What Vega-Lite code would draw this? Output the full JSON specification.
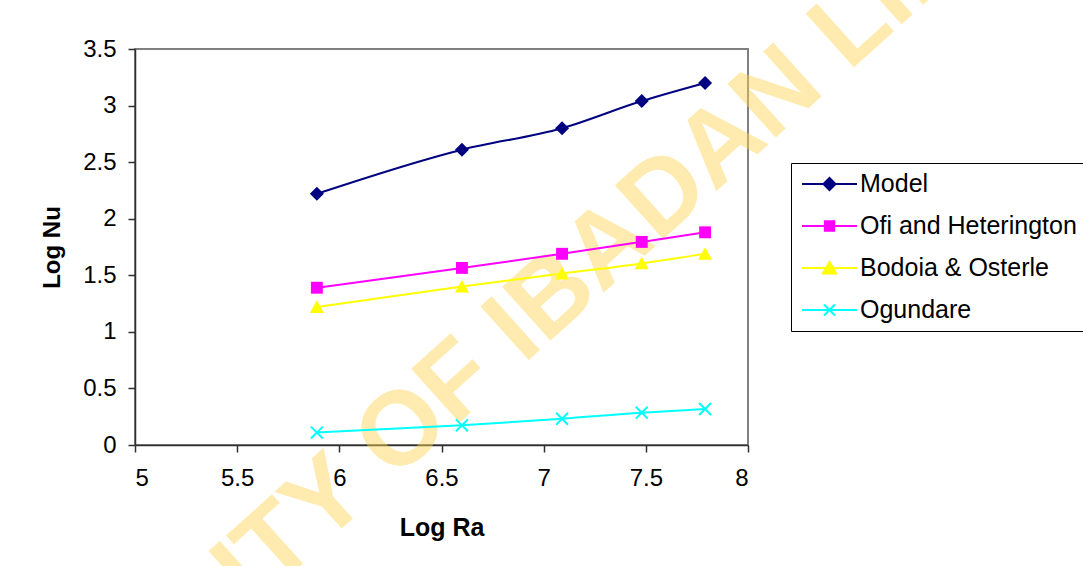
{
  "$schema": "https://vega.github.io/schema/vega-lite/v6.json",
  "width": 613,
  "height": 396,
  "autosize": "none",
  "padding": {"left": 135, "top": 49, "right": 335, "bottom": 121},
  "background": "white",
  "config": {
    "font": "Liberation Sans",
    "view": {"stroke": "#808080", "strokeWidth": 2},
    "axis": {
      "grid": false,
      "domainColor": "#303030",
      "domainWidth": 1.5,
      "tickColor": "#303030",
      "tickWidth": 1.5,
      "tickSize": 7,
      "labelFont": "Liberation Sans",
      "labelFontSize": 24,
      "labelColor": "black",
      "titleFont": "Liberation Sans",
      "titleFontSize": 24,
      "titleFontWeight": "bold",
      "titleColor": "black"
    }
  },
  "data": {
    "values": [
      {"series": "Model", "LogRa": 5.89, "LogNu": 2.22},
      {"series": "Model", "LogRa": 6.6, "LogNu": 2.61},
      {"series": "Model", "LogRa": 7.09, "LogNu": 2.8},
      {"series": "Model", "LogRa": 7.48, "LogNu": 3.04},
      {"series": "Model", "LogRa": 7.79, "LogNu": 3.2},
      {"series": "Ofi and Heterington", "LogRa": 5.89, "LogNu": 1.39},
      {"series": "Ofi and Heterington", "LogRa": 6.6, "LogNu": 1.565},
      {"series": "Ofi and Heterington", "LogRa": 7.09, "LogNu": 1.69},
      {"series": "Ofi and Heterington", "LogRa": 7.48, "LogNu": 1.795},
      {"series": "Ofi and Heterington", "LogRa": 7.79, "LogNu": 1.88},
      {"series": "Bodoia & Osterle", "LogRa": 5.89, "LogNu": 1.22},
      {"series": "Bodoia & Osterle", "LogRa": 6.6, "LogNu": 1.4},
      {"series": "Bodoia & Osterle", "LogRa": 7.09, "LogNu": 1.515},
      {"series": "Bodoia & Osterle", "LogRa": 7.48, "LogNu": 1.605},
      {"series": "Bodoia & Osterle", "LogRa": 7.79, "LogNu": 1.69},
      {"series": "Ogundare", "LogRa": 5.89, "LogNu": 0.11},
      {"series": "Ogundare", "LogRa": 6.6, "LogNu": 0.174},
      {"series": "Ogundare", "LogRa": 7.09, "LogNu": 0.232},
      {"series": "Ogundare", "LogRa": 7.48, "LogNu": 0.286},
      {"series": "Ogundare", "LogRa": 7.79, "LogNu": 0.318}
    ]
  },
  "layer": [
    {
      "data": {"values": [{"label": "UNIVERSITY OF IBADAN LIBRARY"}]},
      "mark": {
        "type": "text",
        "angle": 318,
        "fontSize": 105,
        "fontWeight": "bold",
        "font": "Liberation Sans",
        "color": "#FFD54F",
        "opacity": 0.45,
        "align": "center",
        "baseline": "middle"
      },
      "encoding": {
        "text": {"field": "label", "type": "nominal"},
        "x": {"datum": 6.92, "type": "quantitative"},
        "y": {"datum": 1.12, "type": "quantitative"}
      }
    },
    {
      "mark": {"type": "line", "interpolate": "monotone", "strokeWidth": 2},
      "encoding": {
        "x": {
          "field": "LogRa",
          "type": "quantitative",
          "scale": {"domain": [5, 8], "nice": false, "zero": false},
          "axis": {
            "title": "Log Ra",
            "values": [5, 5.5, 6, 6.5, 7, 7.5, 8],
            "format": "~g",
            "labelPadding": 14,
            "titlePadding": 25,
            "titleFontSize": 25
          }
        },
        "y": {
          "field": "LogNu",
          "type": "quantitative",
          "scale": {"domain": [0, 3.5], "nice": false},
          "axis": {
            "title": "Log Nu",
            "values": [0, 0.5, 1, 1.5, 2, 2.5, 3, 3.5],
            "format": "~g",
            "labelPadding": 12,
            "titlePadding": 18
          }
        },
        "stroke": {
          "field": "series",
          "type": "nominal",
          "scale": {
            "domain": ["Model", "Ofi and Heterington", "Bodoia & Osterle", "Ogundare"],
            "range": ["#000080", "#FF00FF", "#FFFF00", "#00FFFF"]
          }
        }
      }
    },
    {
      "transform": [{"filter": "datum.series === 'Model'"}],
      "mark": {"type": "point", "shape": "M0,-1L1,0L0,1L-1,0Z", "filled": true, "color": "#000080", "size": 196, "opacity": 1},
      "encoding": {
        "x": {"field": "LogRa", "type": "quantitative"},
        "y": {"field": "LogNu", "type": "quantitative"}
      }
    },
    {
      "transform": [{"filter": "datum.series === 'Ofi and Heterington'"}],
      "mark": {"type": "point", "shape": "M-0.85,-0.85H0.85V0.85H-0.85Z", "filled": true, "color": "#FF00FF", "size": 196, "opacity": 1},
      "encoding": {
        "x": {"field": "LogRa", "type": "quantitative"},
        "y": {"field": "LogNu", "type": "quantitative"}
      }
    },
    {
      "transform": [{"filter": "datum.series === 'Bodoia & Osterle'"}],
      "mark": {"type": "point", "shape": "M0,-0.95L1,0.85H-1Z", "filled": true, "color": "#FFFF00", "size": 196, "opacity": 1},
      "encoding": {
        "x": {"field": "LogRa", "type": "quantitative"},
        "y": {"field": "LogNu", "type": "quantitative"}
      }
    },
    {
      "transform": [{"filter": "datum.series === 'Ogundare'"}],
      "mark": {"type": "point", "shape": "M-0.85,-0.85L0.85,0.85M-0.85,0.85L0.85,-0.85", "filled": false, "color": "#00FFFF", "strokeWidth": 2, "size": 196, "opacity": 1},
      "encoding": {
        "x": {"field": "LogRa", "type": "quantitative"},
        "y": {"field": "LogNu", "type": "quantitative"}
      }
    },
    {
      "mark": {"type": "point", "filled": true, "size": 0, "strokeWidth": 2, "opacity": 1},
      "encoding": {
        "x": {"field": "LogRa", "type": "quantitative"},
        "y": {"field": "LogNu", "type": "quantitative"},
        "fill": {
          "field": "series",
          "type": "nominal",
          "scale": {
            "domain": ["Model", "Ofi and Heterington", "Bodoia & Osterle", "Ogundare"],
            "range": ["#000080", "#FF00FF", "#FFFF00", "#00FFFF"]
          },
          "legend": {
            "title": null,
            "orient": "none",
            "legendX": 656,
            "legendY": 114,
            "padding": 6,
            "strokeColor": "black",
            "fillColor": "white",
            "symbolSize": 3025,
            "symbolStrokeWidth": 2,
            "symbolOpacity": 1,
            "clipHeight": 30,
            "rowPadding": 12,
            "labelFont": "Liberation Sans",
            "labelFontSize": 25,
            "labelColor": "black",
            "labelOffset": 2,
            "labelLimit": 400,
            "symbolOffset": 4
          }
        },
        "stroke": {
          "field": "series",
          "type": "nominal"
        },
        "shape": {
          "field": "series",
          "type": "nominal",
          "scale": {
            "domain": ["Model", "Ofi and Heterington", "Bodoia & Osterle", "Ogundare"],
            "range": [
              "M-1,0H1M0,-0.22L0.22,0L0,0.22L-0.22,0Z",
              "M-1,0H1M-0.17,-0.17H0.17V0.17H-0.17Z",
              "M-1,0H1M0,-0.22L0.24,0.2H-0.24Z",
              "M-1,0H1M-0.2,-0.2L0.2,0.2M-0.2,0.2L0.2,-0.2"
            ]
          }
        }
      }
    }
  ]
}
